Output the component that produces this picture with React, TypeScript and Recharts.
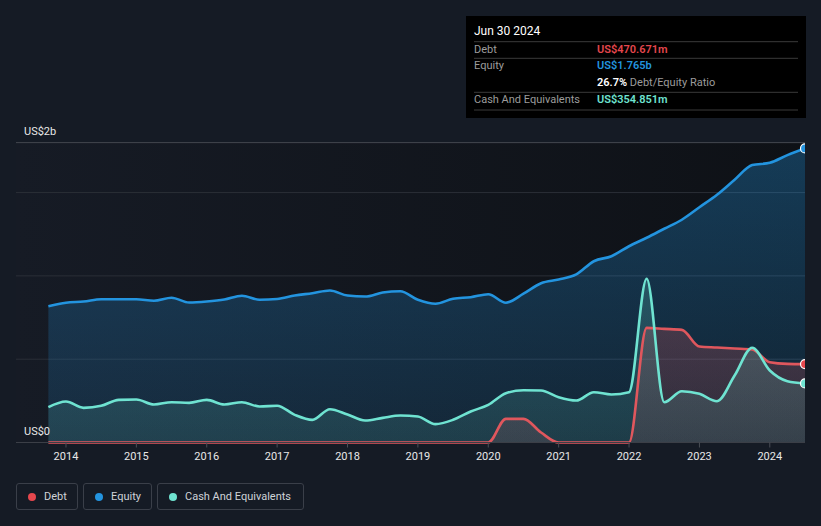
import React from "react";
import {
  ComposedChart,
  Area,
  Line,
  XAxis,
  YAxis,
  CartesianGrid,
  ReferenceLine,
} from "recharts";

// quarter ends, as decimal years
const quarters = [
  2013.75, 2014, 2014.25, 2014.5, 2014.75, 2015, 2015.25, 2015.5, 2015.75,
  2016, 2016.25, 2016.5, 2016.75, 2017, 2017.25, 2017.5, 2017.75, 2018,
  2018.25, 2018.5, 2018.75, 2019, 2019.25, 2019.5, 2019.75, 2020, 2020.25,
  2020.5, 2020.75, 2021, 2021.25, 2021.5, 2021.75, 2022, 2022.25, 2022.5,
  2022.75, 2023, 2023.25, 2023.5, 2023.75, 2024, 2024.25, 2024.5,
];

// US$ millions
const debt = [
  0, 0, 0, 0, 0, 0, 0, 0, 0, 0, 0, 0, 0, 0, 0, 0, 0, 0, 0, 0, 0, 0, 0, 0, 0,
  0, 142, 142, 60, 0, 0, 0, 0, 0, 688, 682, 676, 576, 570, 564, 558, 482, 472,
  470.671,
];

const equity = [
  818, 839, 846, 860, 860, 860, 851, 869, 840, 846, 858, 881, 857, 861, 882,
  896, 912, 882, 876, 900, 908, 857, 833, 863, 872, 890, 839, 893, 956, 978,
  1009, 1088, 1118, 1178, 1229, 1283, 1337, 1412, 1487, 1577, 1665, 1679, 1725,
  1765,
];

const cash = [
  212, 246, 208, 220, 256, 258, 228, 242, 238, 256, 228, 242, 216, 221, 166,
  136, 200, 168, 132, 148, 162, 156, 110, 136, 186, 226, 296, 314, 312, 272,
  252, 302, 288, 302, 983, 242, 308, 292, 248, 402, 569, 432, 368, 354.851,
];

const yearTicks = [2014, 2015, 2016, 2017, 2018, 2019, 2020, 2021, 2022, 2023, 2024];
const valueTicks = [0, 500, 1000, 1500, 1800];
const axisLabels = [
  { value: 1800, text: "US$2b" },
  { value: 0, text: "US$0" },
];

const series = [
  { key: "debt", name: "Debt", color: "#e0575d", dot: "#e5474d" },
  { key: "equity", name: "Equity", color: "#2394df", dot: "#2394df" },
  { key: "cash", name: "Cash And Equivalents", color: "#6fe3d1", dot: "#6fe3d1" },
];

const data = quarters.map((t, i) => ({
  t,
  debt: debt[i],
  equity: equity[i],
  cash: cash[i],
}));

const FONT = "Roboto, 'Noto Sans', sans-serif";
const last = data.length - 1;

const endDot = (color: string) => (props: any) => {
  const { cx, cy, index } = props;
  if (index !== last) return <g key={`e-${index}`} />;
  return (
    <circle
      key={`e-${index}`}
      cx={cx}
      cy={cy}
      r={4.5}
      fill={color}
      stroke="#ffffff"
      strokeWidth={1.2}
    />
  );
};

// value label sitting just above its grid line, at the left edge
const edgeLabel = (text: string) => (props: any) => {
  const { viewBox } = props;
  return (
    <text x={24} y={viewBox.y - 8} fill="#e8e8e8" fontSize={11} fontFamily={FONT}>
      {text}
    </text>
  );
};

function InfoBox() {
  const label = { fill: "#9c9c9c", fontSize: 11, fontFamily: FONT };
  const value = { fontSize: 11, fontFamily: FONT, fontWeight: 600 };
  return (
    <svg
      width={340}
      height={102}
      style={{ position: "absolute", left: 466, top: 16 }}
    >
      <rect width={340} height={102} fill="#000000" />
      <text x={8} y={19} fill="#ffffff" fontSize={12} fontFamily={FONT}>
        Jun 30 2024
      </text>
      {[25.7, 42.3, 76.3, 94].map((y) => (
        <line key={y} x1={8} x2={332} y1={y} y2={y} stroke="#3a3a3a" strokeWidth={1} />
      ))}
      <text x={8} y={36.7} {...label}>Debt</text>
      <text x={131} y={36.7} fill="#e5474d" {...value}>US$470.671m</text>
      <text x={8} y={53.3} {...label}>Equity</text>
      <text x={131} y={53.3} fill="#2394df" {...value}>US$1.765b</text>
      <text x={131} y={70} fontSize={11} fontFamily={FONT}>
        <tspan fill="#ffffff" fontWeight={600}>26.7%</tspan>
        <tspan fill="#9c9c9c"> Debt/Equity Ratio</tspan>
      </text>
      <text x={8} y={87.3} {...label}>Cash And Equivalents</text>
      <text x={131} y={87.3} fill="#6fe3d1" {...value}>US$354.851m</text>
    </svg>
  );
}

function LegendBoxes() {
  const lefts = [16, 83, 157];
  const widths = [62, 69, 147];
  return (
    <>
      {series.map((s, i) => (
        <div
          key={s.key}
          style={{
            position: "absolute",
            left: lefts[i],
            top: 483,
            width: widths[i],
            height: 27,
            boxSizing: "border-box",
            border: "1px solid #3a3f49",
            borderRadius: 3,
            display: "flex",
            alignItems: "center",
            paddingLeft: 10.5,
            fontFamily: FONT,
            fontSize: 11,
            color: "#cfd3d8",
            whiteSpace: "nowrap",
          }}
        >
          <span
            style={{
              width: 8,
              height: 8,
              borderRadius: "50%",
              background: s.dot,
              marginRight: 8.5,
              flex: "none",
            }}
          />
          {s.name}
        </div>
      ))}
    </>
  );
}

export default function App() {
  return (
    <div
      style={{
        position: "fixed",
        left: 0,
        top: 0,
        width: 821,
        height: 526,
        background: "#151b25",
        overflow: "hidden",
      }}
    >
      <ComposedChart
        width={821}
        height={526}
        data={data}
        margin={{ top: 142.6, right: 16, bottom: 53.5, left: 16 }}
      >
        <defs>
          <linearGradient id="plotBg" x1="0" y1="0" x2="1" y2="0">
            <stop offset="0%" stopColor="#161b25" />
            <stop offset="100%" stopColor="#0e1116" />
          </linearGradient>
          <linearGradient id="equityFill" x1="0" y1="0" x2="0" y2="1">
            <stop offset="0%" stopColor="#2394df" stopOpacity={0.32} />
            <stop offset="100%" stopColor="#2394df" stopOpacity={0.14} />
          </linearGradient>
          <linearGradient id="debtFill" x1="0" y1="0" x2="0" y2="1">
            <stop offset="0%" stopColor="#e0575d" stopOpacity={0.24} />
            <stop offset="100%" stopColor="#e0575d" stopOpacity={0.14} />
          </linearGradient>
          <linearGradient id="cashFill" x1="0" y1="0" x2="0" y2="1">
            <stop offset="0%" stopColor="#6fe3d1" stopOpacity={0.2} />
            <stop offset="100%" stopColor="#6fe3d1" stopOpacity={0.12} />
          </linearGradient>
        </defs>
        <CartesianGrid
          vertical={false}
          stroke="#2b2f37"
          fill="url(#plotBg)"
          fillOpacity={1}
        />
        <XAxis
          dataKey="t"
          type="number"
          domain={[2013.29, 2024.5]}
          ticks={yearTicks}
          allowDataOverflow
          tickFormatter={(v) => String(v)}
          axisLine={{ stroke: "#3b3f47" }}
          tickLine={{ stroke: "#4a4e56" }}
          tickSize={5}
          tickMargin={5}
          height={30}
          tick={{ fill: "#e8e8e8", fontSize: 11, fontFamily: FONT }}
        />
        <YAxis
          type="number"
          domain={[0, 1800]}
          ticks={valueTicks}
          hide
        />
        {axisLabels.map((a) => (
          <ReferenceLine
            key={a.value}
            y={a.value}
            stroke={a.value === 0 ? "none" : "#40444c"}
            strokeWidth={1}
            label={edgeLabel(a.text)}
          />
        ))}

        <Area
          type="monotone"
          dataKey="equity"
          stroke="none"
          fill="url(#equityFill)"
          fillOpacity={1}
          isAnimationActive={false}
        />
        <Area
          type="monotone"
          dataKey="debt"
          stroke="none"
          fill="url(#debtFill)"
          fillOpacity={1}
          isAnimationActive={false}
        />
        <Area
          type="monotone"
          dataKey="cash"
          stroke="none"
          fill="url(#cashFill)"
          fillOpacity={1}
          isAnimationActive={false}
        />

        <Line
          type="monotone"
          dataKey="equity"
          stroke="#2394df"
          strokeWidth={2.6}
          dot={endDot("#2394df")}
          activeDot={false}
          isAnimationActive={false}
        />
        <Line
          type="monotone"
          dataKey="debt"
          stroke="#e0575d"
          strokeWidth={2.6}
          dot={endDot("#e5474d")}
          activeDot={false}
          isAnimationActive={false}
        />
        <Line
          type="monotone"
          dataKey="cash"
          stroke="#6fe3d1"
          strokeWidth={2.6}
          dot={endDot("#6fe3d1")}
          activeDot={false}
          isAnimationActive={false}
        />
      </ComposedChart>
      <InfoBox />
      <LegendBoxes />
    </div>
  );
}
